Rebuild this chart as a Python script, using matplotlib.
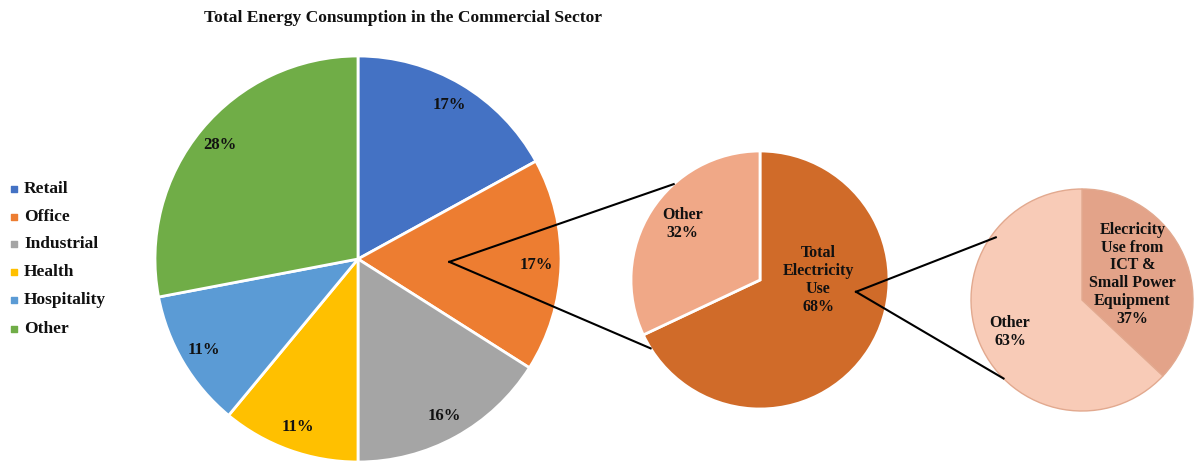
import numpy as np
import matplotlib.pyplot as plt

plt.rcParams['font.family'] = ['Liberation Serif', 'DejaVu Serif']
plt.rcParams['font.weight'] = 'bold'

# commercial sector breakdown
sectors = ['Retail', 'Office', 'Industrial', 'Health', 'Hospitality', 'Other']
sector_share = [17, 17, 16, 11, 11, 28]
sector_colors = ['#4472C4', '#ED7D31', '#A5A5A5', '#FFC000', '#5B9BD5', '#70AD47']

# office energy split
office_parts = ['Total\nElectricity\nUse', 'Other']
office_share = [68, 32]
office_colors = ['#D06B29', '#F0A887']

# office electricity split
elec_parts = ['Elecricity\nUse from\nICT &\nSmall Power\nEquipment', 'Other']
elec_share = [37, 63]
elec_colors = ['#E3A389', '#F8CBB7']

W, H = 1197, 466
fig = plt.figure(figsize=(W / 100, H / 100), dpi=100)
ax = fig.add_axes([0, 0, 1, 1])

# pie centres / radii in pixel space (y measured upward)
c1, r1 = (358, H - 259), 203
c2, r2 = (760, H - 280), 129
c3, r3 = (1082, H - 300), 111


def polar(c, r, deg):
    a = np.deg2rad(deg)
    return c[0] + r * np.cos(a), c[1] + r * np.sin(a)


fs = 12
w1, _, t1 = ax.pie(sector_share, colors=sector_colors, startangle=90, counterclock=False,
                   center=c1, radius=r1, autopct='%d%%', pctdistance=0.88,
                   wedgeprops=dict(edgecolor='white', linewidth=2),
                   textprops=dict(fontsize=fs, fontweight='bold', color='#111111'),
                   frame=True)

w2, _ = ax.pie(office_share, colors=office_colors, startangle=90, counterclock=False,
               center=c2, radius=r2,
               wedgeprops=dict(edgecolor='white', linewidth=2), frame=True)

w3, _ = ax.pie(elec_share, colors=elec_colors, startangle=90, counterclock=False,
               center=c3, radius=r3,
               wedgeprops=dict(edgecolor='#E2A98F', linewidth=1), frame=True)

# labels inside the sub pies
lab_pos2 = [(0.45, 0), (0.74, 144)]
for name, v, (d, ang) in zip(office_parts, office_share, lab_pos2):
    x, y = polar(c2, d * r2, ang)
    ax.text(x, y, f'{name}\n{v}%', ha='center', va='center', fontsize=fs - 0.5,
            fontweight='bold', color='#111111', linespacing=1.15)

lab_pos3 = [(0.51, 27), (0.71, 204)]
for name, v, (d, ang) in zip(elec_parts, elec_share, lab_pos3):
    x, y = polar(c3, d * r3, ang)
    ax.text(x, y, f'{name}\n{v}%', ha='center', va='center', fontsize=fs - 0.5,
            fontweight='bold', color='#111111', linespacing=1.15)

# connectors from office slice to breakdown pie, and on to the electricity pie
office_mid = (w1[1].theta1 + w1[1].theta2) / 2
p0 = polar(c1, 0.45 * r1, office_mid)
for ang in (132, 212):
    q = polar(c2, r2, ang)
    ax.plot([p0[0], q[0]], [p0[1], q[1]], color='black', lw=1.5, zorder=5)

p1 = polar(c2, 0.75 * r2, -7)
for ang, rr in ((144, 0.96), (225, 1.0)):
    q = polar(c3, rr * r3, ang)
    ax.plot([p1[0], q[0]], [p1[1], q[1]], color='black', lw=1.5, zorder=5)

ax.text(403, H - 18, 'Total Energy Consumption in the Commercial Sector', ha='center',
        va='center', fontsize=12.6, fontweight='bold', color='#111111')

# legend down the left side
leg_y = [189, 217, 244, 272, 300, 329]
for name, col, y in zip(sectors, sector_colors, leg_y):
    ax.scatter([14], [H - y], marker='s', s=22, color=col, zorder=5)
    ax.text(24, H - y, name, ha='left', va='center', fontsize=12.5,
            fontweight='bold', color='#111111')

ax.set_xlim(0, W)
ax.set_ylim(0, H)
ax.set_aspect('equal')
ax.axis('off')

fig.savefig('out.png', dpi=100, facecolor='white')
